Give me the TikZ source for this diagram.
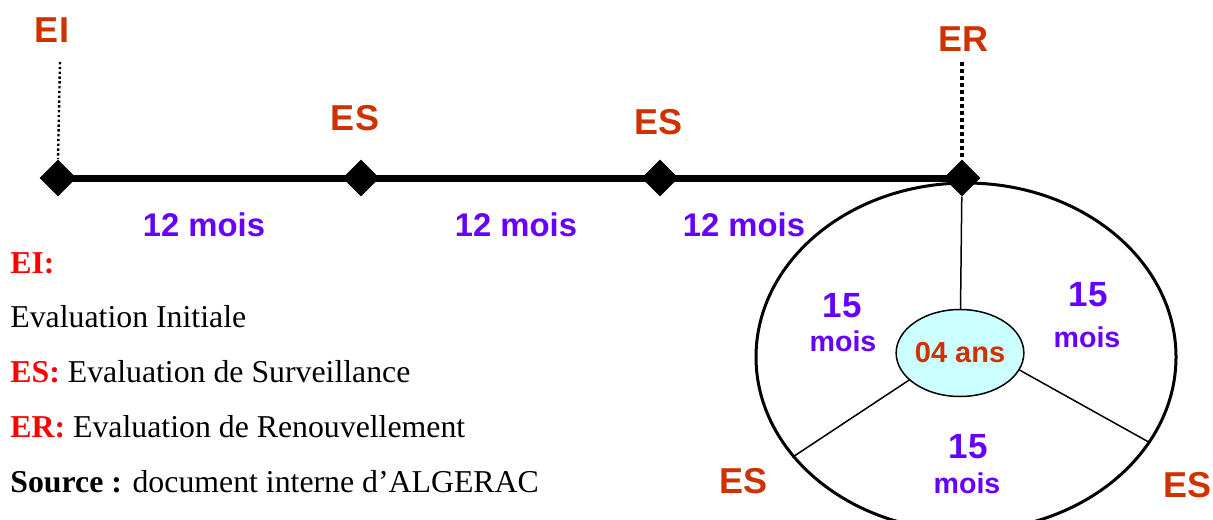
\documentclass[tikz,border=0pt]{standalone}
\usepackage{fontspec}
\setmainfont{Liberation Serif}
\newfontfamily\arialf{Liberation Sans}
\usetikzlibrary{shapes.geometric}
\definecolor{lab}{HTML}{CC3300}
\definecolor{pur}{HTML}{6600FF}
\definecolor{leg}{HTML}{FF0000}
\definecolor{cyanf}{HTML}{CCFFFF}
\begin{document}
\begin{tikzpicture}[x=0.5pt,y=-0.5pt,
 dia/.style={diamond, fill=black, inner sep=0pt, minimum width=18.5pt, minimum height=18.5pt},
 tl/.style={font=\arialf\bfseries\fontsize{18}{21}\selectfont, text=lab, anchor=base, inner sep=0pt},
 mo/.style={font=\arialf\bfseries\fontsize{16.4}{19}\selectfont, text=pur, anchor=base, inner sep=0pt},
 fif/.style={font=\arialf\bfseries\fontsize{17.5}{20}\selectfont, text=pur, anchor=base, inner sep=0pt},
 moisc/.style={font=\arialf\bfseries\fontsize{14.3}{17}\selectfont, text=pur, anchor=base, inner sep=0pt},
 legt/.style={font=\fontsize{15.9}{19}\selectfont, anchor=base west, inner sep=0pt},
 thin line/.style={line width=0.75pt}]
\clip (0,0) rectangle (1213,519);
% timeline
\coordinate (p1) at (58,178);
\coordinate (p2) at (361,178);
\coordinate (p3) at (660,178);
\coordinate (p4) at (962,178);
\draw[line width=3.5pt] (p1) -- (p2) -- (p3) -- (p4);
% big circle
\node[draw, ellipse, line width=1.5pt, minimum width=210pt, minimum height=174pt, inner sep=0pt] (big) at (966,357) {};
\node[draw, ellipse, thin line, fill=cyanf, minimum width=54pt, minimum height=43.5pt, inner sep=0pt,
      font=\arialf\bfseries\fontsize{14.5}{17}\selectfont, text=lab] (sm) at (960,353) {04 ans};
% diamonds
\node[dia] (d1) at (p1) {};
\node[dia] (d2) at (p2) {};
\node[dia] (d3) at (p3) {};
\node[dia] (d4) at (p4) {};
% dotted lines
\coordinate (eit) at (60,62);
\coordinate (ert) at (962,62);
\draw[line width=1.2pt, dash pattern=on 1.2pt off 1.2pt] (eit) -- (d1.north);
\draw[line width=2pt, dash pattern=on 2pt off 1.5pt] (ert) -- (d4.north);
% spokes
\draw[thin line] (d4) -- (sm);
\draw[thin line] (sm.208) -- (big.210);
\draw[thin line] (sm.344) -- (big.335);
% timeline labels
\node[tl] (lei) at (52,43) {EI};
\node[tl] (les1) at (355,130) {ES};
\node[tl] (les2) at (658,134) {ES};
\node[tl] (ler) at (963,52) {ER};
\node[tl] (les3) at (743,493) {ES};
\node[tl] (les4) at (1187,497) {ES};
\node[mo] (m1) at (204,236) {12 mois};
\node[mo] (m2) at (516,236) {12 mois};
\node[mo] (m3) at (744,236) {12 mois};
% circle labels
\node[fif] (f1) at (842,317) {15};
\node[moisc] (c1) at (843,351) {mois};
\node[fif] (f2) at (1088,306) {15};
\node[moisc] (c2) at (1087,347) {mois};
\node[fif] (f3) at (968,458) {15};
\node[moisc] (c3) at (967,493) {mois};
% legend
\node[legt] (g1) at (10,273) {\textcolor{leg}{\textbf{EI:}}};
\node[legt] (g2) at (10,327) {Evaluation Initiale};
\node[legt] (g3) at (10,382) {\textcolor{leg}{\textbf{ES:}} Evaluation de Surveillance};
\node[legt] (g4) at (10,437) {\textcolor{leg}{\textbf{ER:}} Evaluation de Renouvellement};
\node[legt] (g5) at (10,492) {\textbf{Source :} document interne d’ALGERAC};
\end{tikzpicture}
\end{document}
